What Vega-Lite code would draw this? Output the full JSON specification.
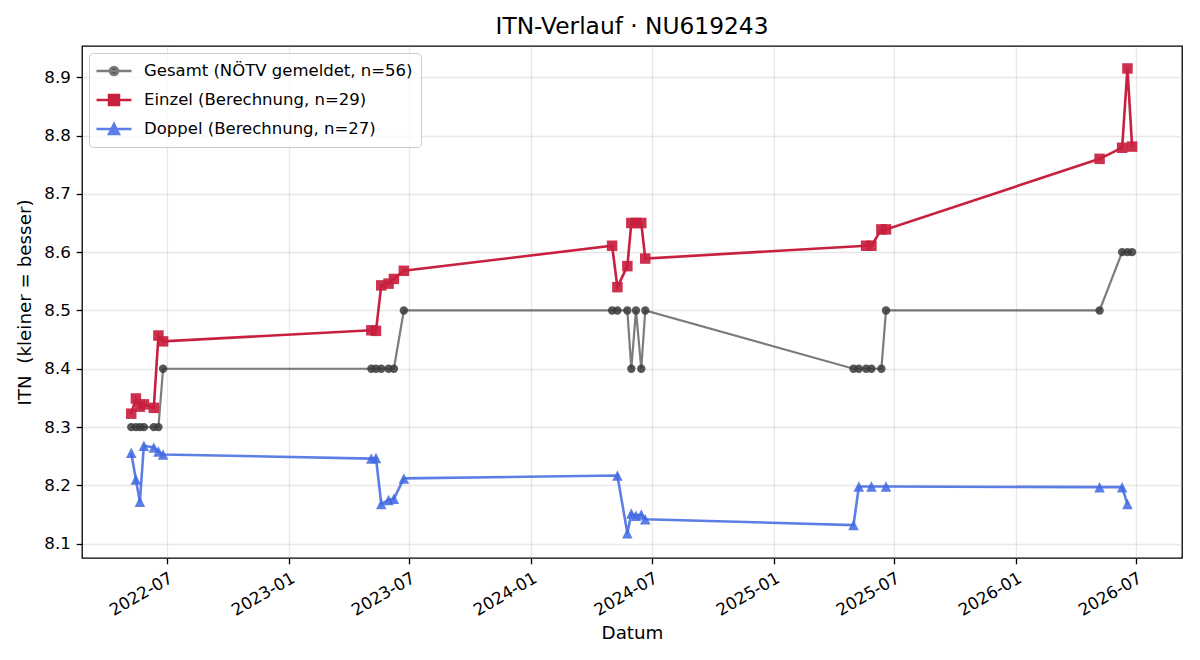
{
  "$schema": "https://vega.github.io/schema/vega-lite/v6.json",
  "width": 1100,
  "height": 512,
  "autosize": {"type": "none"},
  "padding": {"left": 82, "top": 46, "right": 18, "bottom": 102},
  "background": "white",
  "title": {"text": "ITN-Verlauf · NU619243", "fontSize": 23.3, "fontWeight": "normal", "color": "#000", "font": "DejaVu Sans", "offset": 7},
  "config": {
    "font": "DejaVu Sans",
    "view": {"stroke": "#000", "strokeWidth": 1.3},
    "axis": {"labelFont": "DejaVu Sans", "labelFontSize": 16.7, "labelColor": "#000", "titleFont": "DejaVu Sans", "titleFontSize": 18.3, "titleFontWeight": "normal", "titleColor": "#000", "tickColor": "#000", "tickSize": 5.8, "tickWidth": 1.3, "labelPadding": 5.8, "domain": false, "grid": true, "gridColor": "#b0b0b0", "gridOpacity": 0.3, "gridWidth": 1.3},
    "legend": {"orient": "top-left", "offset": 7, "title": null, "fillColor": "rgba(255,255,255,0.8)", "strokeColor": "#cccccc", "strokeWidth": 1, "cornerRadius": 4, "padding": 8, "labelFont": "DejaVu Sans", "labelFontSize": 16.5, "labelColor": "#000", "labelLimit": 0, "symbolSize": 306, "symbolStrokeWidth": 2.5, "symbolOpacity": 1, "symbolOffset": 7, "labelOffset": 20, "rowPadding": 9}
  },
  "data": {"values": [
    {"d": "2022-05-08", "s": "G", "v": 8.3}, {"d": "2022-05-15", "s": "G", "v": 8.3}, {"d": "2022-05-21", "s": "G", "v": 8.3}, {"d": "2022-05-27", "s": "G", "v": 8.3}, {"d": "2022-06-11", "s": "G", "v": 8.3}, {"d": "2022-06-18", "s": "G", "v": 8.3}, {"d": "2022-06-25", "s": "G", "v": 8.4},
    {"d": "2023-05-05", "s": "G", "v": 8.4}, {"d": "2023-05-12", "s": "G", "v": 8.4}, {"d": "2023-05-20", "s": "G", "v": 8.4}, {"d": "2023-05-31", "s": "G", "v": 8.4}, {"d": "2023-06-08", "s": "G", "v": 8.4}, {"d": "2023-06-23", "s": "G", "v": 8.5},
    {"d": "2024-05-02", "s": "G", "v": 8.5}, {"d": "2024-05-10", "s": "G", "v": 8.5}, {"d": "2024-05-25", "s": "G", "v": 8.5}, {"d": "2024-05-31", "s": "G", "v": 8.4}, {"d": "2024-06-07", "s": "G", "v": 8.5}, {"d": "2024-06-15", "s": "G", "v": 8.4}, {"d": "2024-06-21", "s": "G", "v": 8.5},
    {"d": "2025-05-01", "s": "G", "v": 8.4}, {"d": "2025-05-09", "s": "G", "v": 8.4}, {"d": "2025-05-20", "s": "G", "v": 8.4}, {"d": "2025-05-28", "s": "G", "v": 8.4}, {"d": "2025-06-12", "s": "G", "v": 8.4}, {"d": "2025-06-19", "s": "G", "v": 8.5},
    {"d": "2026-05-07", "s": "G", "v": 8.5}, {"d": "2026-06-10", "s": "G", "v": 8.6}, {"d": "2026-06-18", "s": "G", "v": 8.6}, {"d": "2026-06-25", "s": "G", "v": 8.6},

    {"d": "2022-05-08", "s": "E", "v": 8.323}, {"d": "2022-05-15", "s": "E", "v": 8.349}, {"d": "2022-05-21", "s": "E", "v": 8.335}, {"d": "2022-05-27", "s": "E", "v": 8.339}, {"d": "2022-06-11", "s": "E", "v": 8.333}, {"d": "2022-06-18", "s": "E", "v": 8.457}, {"d": "2022-06-25", "s": "E", "v": 8.447},
    {"d": "2023-05-05", "s": "E", "v": 8.466}, {"d": "2023-05-12", "s": "E", "v": 8.465}, {"d": "2023-05-20", "s": "E", "v": 8.543}, {"d": "2023-05-31", "s": "E", "v": 8.546}, {"d": "2023-06-08", "s": "E", "v": 8.554}, {"d": "2023-06-23", "s": "E", "v": 8.568},
    {"d": "2024-05-02", "s": "E", "v": 8.611}, {"d": "2024-05-10", "s": "E", "v": 8.54}, {"d": "2024-05-25", "s": "E", "v": 8.576}, {"d": "2024-05-31", "s": "E", "v": 8.65}, {"d": "2024-06-07", "s": "E", "v": 8.65}, {"d": "2024-06-15", "s": "E", "v": 8.65}, {"d": "2024-06-21", "s": "E", "v": 8.589},
    {"d": "2025-05-20", "s": "E", "v": 8.611}, {"d": "2025-05-28", "s": "E", "v": 8.611}, {"d": "2025-06-12", "s": "E", "v": 8.639}, {"d": "2025-06-19", "s": "E", "v": 8.639},
    {"d": "2026-05-07", "s": "E", "v": 8.76}, {"d": "2026-06-10", "s": "E", "v": 8.779}, {"d": "2026-06-18", "s": "E", "v": 8.915}, {"d": "2026-06-25", "s": "E", "v": 8.781},

    {"d": "2022-05-08", "s": "D", "v": 8.256}, {"d": "2022-05-15", "s": "D", "v": 8.21}, {"d": "2022-05-21", "s": "D", "v": 8.172}, {"d": "2022-05-27", "s": "D", "v": 8.268}, {"d": "2022-06-11", "s": "D", "v": 8.265}, {"d": "2022-06-18", "s": "D", "v": 8.258}, {"d": "2022-06-25", "s": "D", "v": 8.253},
    {"d": "2023-05-05", "s": "D", "v": 8.246}, {"d": "2023-05-12", "s": "D", "v": 8.247}, {"d": "2023-05-20", "s": "D", "v": 8.168}, {"d": "2023-05-31", "s": "D", "v": 8.175}, {"d": "2023-06-08", "s": "D", "v": 8.177}, {"d": "2023-06-23", "s": "D", "v": 8.212},
    {"d": "2024-05-10", "s": "D", "v": 8.217}, {"d": "2024-05-25", "s": "D", "v": 8.118}, {"d": "2024-05-31", "s": "D", "v": 8.152}, {"d": "2024-06-07", "s": "D", "v": 8.148}, {"d": "2024-06-15", "s": "D", "v": 8.15}, {"d": "2024-06-21", "s": "D", "v": 8.142},
    {"d": "2025-05-01", "s": "D", "v": 8.132}, {"d": "2025-05-09", "s": "D", "v": 8.198}, {"d": "2025-05-28", "s": "D", "v": 8.198}, {"d": "2025-06-19", "s": "D", "v": 8.198},
    {"d": "2026-05-07", "s": "D", "v": 8.197}, {"d": "2026-06-10", "s": "D", "v": 8.197}, {"d": "2026-06-18", "s": "D", "v": 8.168}
  ]},
  "encoding": {
    "x": {"field": "d", "type": "temporal",
      "scale": {"type": "utc", "domain": [{"year": 2022, "month": 2, "date": 22, "hours": 18, "utc": true}, {"year": 2026, "month": 9, "date": 8, "hours": 6, "utc": true}]},
      "axis": {"title": "Datum", "format": "%Y-%m", "tickCount": {"interval": "month", "step": 6}, "labelAngle": -30, "labelAlign": "right", "labelBaseline": "top", "titlePadding": 6}},
    "y": {"field": "v", "type": "quantitative",
      "scale": {"domain": [8.0755, 8.9535], "nice": false, "zero": false},
      "axis": {"title": "ITN\u00a0 (kleiner = besser)", "values": [8.1, 8.2, 8.3, 8.4, 8.5, 8.6, 8.7, 8.8, 8.9], "format": ".1f", "titlePadding": 9}}
  },
  "layer": [
    {"transform": [{"filter": "datum.s == 'G'"}], "mark": {"type": "line", "color": "#444444", "opacity": 0.7, "strokeWidth": 2.2}},
    {"transform": [{"filter": "datum.s == 'G'"}], "mark": {"type": "point", "shape": "circle", "filled": true, "size": 70, "color": "#3a3a3a", "opacity": 0.85}},
    {"transform": [{"filter": "datum.s == 'E'"}], "mark": {"type": "line", "color": "#c8203f", "opacity": 1, "strokeWidth": 2.6}},
    {"transform": [{"filter": "datum.s == 'E'"}], "mark": {"type": "point", "shape": "square", "filled": true, "size": 110, "color": "#c8203f", "opacity": 0.92}},
    {"transform": [{"filter": "datum.s == 'D'"}], "mark": {"type": "line", "color": "#4169e1", "opacity": 0.85, "strokeWidth": 2.6}},
    {"transform": [{"filter": "datum.s == 'D'"}], "mark": {"type": "point", "shape": "M0,-1L1,1L-1,1Z", "filled": true, "size": 110, "color": "#4169e1", "opacity": 0.85}},
    {"transform": [{"filter": "false"}],
     "mark": {"type": "point", "filled": true, "opacity": 1},
     "encoding": {
       "fill": {"field": "lg", "type": "nominal", "scale": {"domain": ["Gesamt (NÖTV gemeldet, n=56)", "Einzel (Berechnung, n=29)", "Doppel (Berechnung, n=27)"], "range": ["#555555", "#c8203f", "#5a7ee5"]}},
       "stroke": {"field": "lg", "type": "nominal", "scale": {"domain": ["Gesamt (NÖTV gemeldet, n=56)", "Einzel (Berechnung, n=29)", "Doppel (Berechnung, n=27)"], "range": ["#7c7c7c", "#c8203f", "#5a7ee5"]}},
       "shape": {"field": "lg", "type": "nominal", "scale": {"domain": ["Gesamt (NÖTV gemeldet, n=56)", "Einzel (Berechnung, n=29)", "Doppel (Berechnung, n=27)"], "range": ["M-2,0H2M0.47,0A0.47,0.47,0,1,1,-0.47,0A0.47,0.47,0,1,1,0.47,0Z", "M-2,0H2M-0.57,-0.57H0.57V0.57H-0.57Z", "M-2,0H2M0,-0.57L0.57,0.57H-0.57Z"]}}
     }}
  ]
}
